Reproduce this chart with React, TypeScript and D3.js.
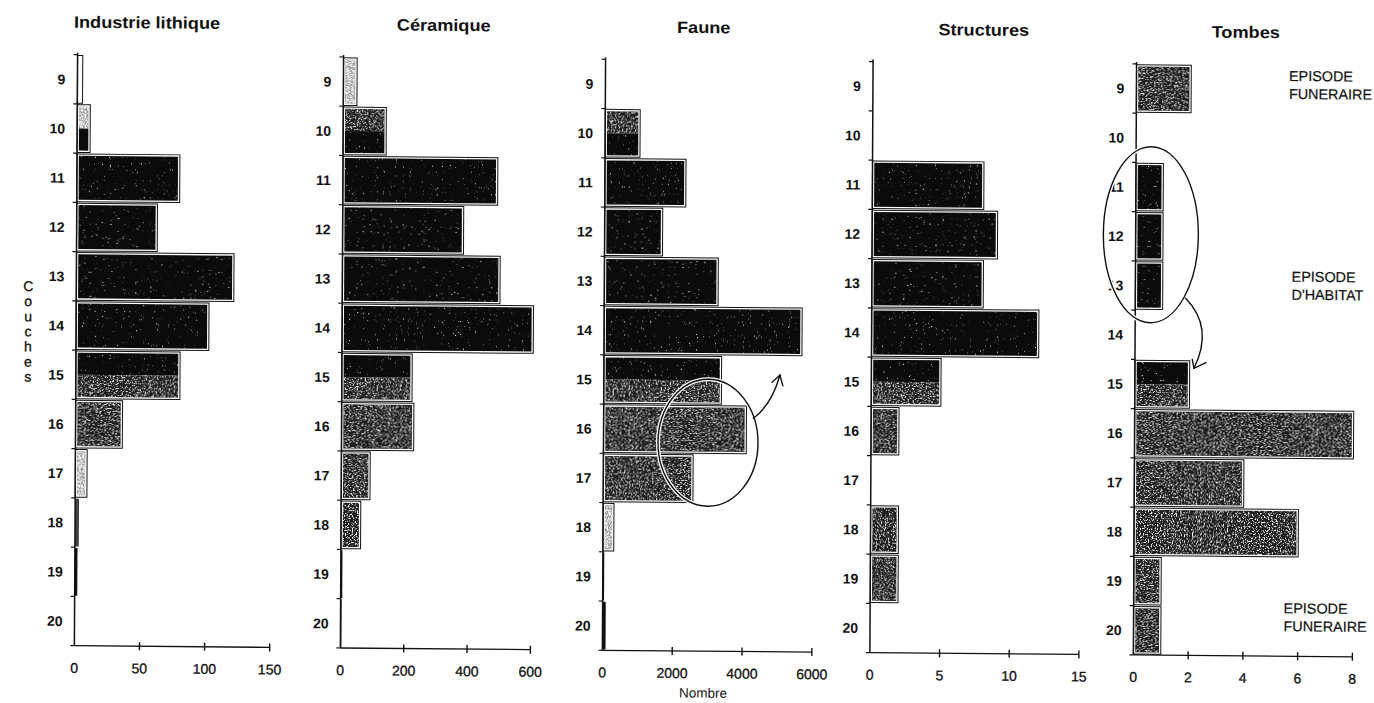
import React from 'react';
import * as d3 from 'd3';

// ---------- data ----------
const layers = [9, 10, 11, 12, 13, 14, 15, 16, 17, 18, 19, 20];

const lithiqueValues = [4, 10, 79, 62, 121, 102, 80, 36, 9, 3, 2, 0];
const ceramiqueValues = [43, 136, 489, 382, 498, 604, 222, 228, 91, 62, 5, 3];
const fauneValues = [0, 1000, 2320, 1660, 3260, 5670, 3370, 4090, 2570, 310, 40, 90];
const structuresValues = [0, 0, 8, 9, 8, 12, 5, 2, 0, 2, 2, 0];
const tombesValues = [2, 0, 1, 1, 1, 0, 2, 8, 4, 6, 1, 1];

const lithiqueTicks = [0, 50, 100, 150];
const ceramiqueTicks = [0, 200, 400, 600];
const fauneTicks = [0, 2000, 4000, 6000];
const structuresTicks = [0, 5, 10, 15];
const tombesTicks = [0, 2, 4, 6, 8];

// fill tone per layer: b = black, g = grey, l = light, w = white, two letters = top/bottom split
const lithiqueTones = ['w', 'lb', 'b', 'b', 'b', 'b', 'bg', 'g', 'l', 'g', 'b', ''];
const ceramiqueTones = ['l', 'gb', 'b', 'b', 'b', 'b', 'bg', 'g', 'g', 'g', 'b', 'b'];
const fauneTones = ['g', 'gb', 'b', 'b', 'b', 'b', 'bg', 'g', 'g', 'l', 'b', 'b'];
const structuresTones = ['', '', 'b', 'b', 'b', 'b', 'bg', 'g', '', 'g', 'g', ''];
const tombesTones = ['g', '', 'b', 'b', 'b', '', 'bg', 'g', 'g', 'g', 'g', 'g'];

const titles = ['Industrie lithique', 'Céramique', 'Faune', 'Structures', 'Tombes'];
const yAxisLetters = ['C', 'o', 'u', 'c', 'h', 'e', 's'];
const xAxisTitle = 'Nombre';
const episodeLines = [
  ['EPISODE', 'FUNERAIRE'],
  ['EPISODE', "D'HABITAT"],
  ['EPISODE', 'FUNERAIRE'],
];

// ---------- layout ----------
const W = 1374;
const H = 703;
const TOP = 60;
const BOTTOM = 651;
const FONT = '"Liberation Sans", Arial, Helvetica, sans-serif';
// slight skew of the scanned page
const K1 = 0.0054;
const K2 = 0.0087;
const CX = 687;
const CY = 351;

const panels = [
  { values: lithiqueValues, ticks: lithiqueTicks, tones: lithiqueTones, x0: 76, width: 195.3, titleX: 145.3 },
  { values: ceramiqueValues, ticks: ceramiqueTicks, tones: ceramiqueTones, x0: 342, width: 190, titleX: 442 },
  { values: fauneValues, ticks: fauneTicks, tones: fauneTones, x0: 604, width: 209.5, titleX: 702 },
  { values: structuresValues, ticks: structuresTicks, tones: structuresTones, x0: 871.5, width: 209, titleX: 982 },
  { values: tombesValues, ticks: tombesTicks, tones: tombesTones, x0: 1135, width: 219, titleX: 1244 },
];

const episodePos = [
  { x: 1287.5, y: 75.7 },
  { x: 1291.2, y: 276.4 },
  { x: 1285, y: 608 },
];

const toneStyle: Record<string, { base: string; filter: string | null; thin: string }> = {
  b: { base: '#0b0b0b', filter: 'url(#spkB)', thin: '#111' },
  g: { base: '#1a1a1a', filter: 'url(#spkG)', thin: '#444' },
  l: { base: '#8a8a8a', filter: 'url(#spkL)', thin: '#999' },
  w: { base: '#ffffff', filter: null, thin: '#fff' },
};

const yScale = d3.scaleBand<number>().domain(layers).range([TOP, BOTTOM]).padding(0);

function Bar({ x0, w, y, h, tone }: { x0: number; w: number; y: number; h: number; tone: string }) {
  if (!tone || w <= 0) return null;
  const parts: [string, number, number][] =
    tone.length === 2 ? [[tone[0], 0, 0.5], [tone[1], 0.5, 0.5]] : [[tone, 0, 1]];
  if (w < 4.5) {
    return (
      <g>
        {parts.map(([t, f, fh], i) => (
          <rect key={i} x={x0} y={y + f * h} width={w} height={h * fh} fill={toneStyle[t].thin} />
        ))}
      </g>
    );
  }
  const inset = 1.8;
  const ix = x0 + inset;
  const iw = w - 2 * inset;
  const iy = y + inset;
  const ih = h - 2 * inset;
  return (
    <g>
      <rect x={x0} y={y} width={w} height={h} fill="#fff" stroke="#111" strokeWidth={1} />
      {parts.map(([t, f, fh], i) => {
        const s = toneStyle[t];
        const ry = iy + f * ih;
        const rh = fh * ih;
        return (
          <g key={i}>
            <rect x={ix} y={ry} width={iw} height={rh} fill={s.base} />
            {s.filter && <rect x={ix} y={ry} width={iw} height={rh} fill="#fff" filter={s.filter} />}
          </g>
        );
      })}
    </g>
  );
}

function Panel({ p, idx }: { p: typeof panels[number]; idx: number }) {
  const max = p.ticks[p.ticks.length - 1];
  const x = d3.scaleLinear().domain([0, max]).range([p.x0, p.x0 + p.width]);
  const bw = yScale.bandwidth();
  const boundaries = d3.range(layers.length + 1).map((i) => TOP + i * bw);
  return (
    <g>
      <text
        transform={`translate(${p.titleX},33) scale(1.1,1)`}
        textAnchor="middle"
        fontFamily={FONT}
        fontWeight="bold"
        fontSize={16.5}
        fill="#111"
      >
        {titles[idx]}
      </text>
      {layers.map((l, i) => (
        <Bar
          key={l}
          x0={p.x0}
          w={x(p.values[i]) - p.x0}
          y={(yScale(l) as number) + 0.8}
          h={bw - 1.6}
          tone={p.tones[i]}
        />
      ))}
      {/* y axis */}
      <line x1={p.x0} x2={p.x0} y1={TOP - 2} y2={BOTTOM} stroke="#111" strokeWidth={1.5} />
      {boundaries.map((b, i) => (
        <line key={i} x1={p.x0 - 4} x2={p.x0} y1={b} y2={b} stroke="#111" strokeWidth={1.2} />
      ))}
      {layers.map((l) => (
        <text
          key={l}
          x={p.x0 - 12}
          y={(yScale(l) as number) + bw / 2 + 5}
          textAnchor="end"
          fontFamily={FONT}
          fontWeight="bold"
          fontSize={14}
          fill="#111"
        >
          {l}
        </text>
      ))}
      {/* x axis */}
      <line x1={p.x0} x2={p.x0 + p.width} y1={BOTTOM} y2={BOTTOM} stroke="#111" strokeWidth={1.3} />
      {p.ticks.map((t) => (
        <g key={t}>
          {t !== 0 && <line x1={x(t)} x2={x(t)} y1={BOTTOM - 4} y2={BOTTOM + 4} stroke="#111" strokeWidth={1.4} />}
          <text
            x={x(t)}
            y={BOTTOM + 27}
            textAnchor="middle"
            fontFamily={FONT}
            fontSize={14}
            fill="#111"
            stroke="#111"
            strokeWidth={0.3}
          >
            {t}
          </text>
        </g>
      ))}
    </g>
  );
}

function Arrow({ d, tip, b1, b2 }: { d: string; tip: number[]; b1: number[]; b2: number[] }) {
  return (
    <g fill="none" stroke="#111" strokeWidth={1.4} strokeLinecap="round">
      <path d={d} />
      <polyline points={`${b1[0]},${b1[1]} ${tip[0]},${tip[1]} ${b2[0]},${b2[1]}`} />
    </g>
  );
}

export default function App() {
  const skew = `matrix(1 ${K2} ${-K1} 1 ${K1 * CY} ${-K2 * CX})`;
  const letterStart = 296.7;
  const letterStep = 15.1;
  return (
    <svg
      width={W}
      height={H}
      viewBox={`0 0 ${W} ${H}`}
      style={{ position: 'absolute', left: 0, top: 0, background: '#fff' }}
    >
      <defs>
        <filter id="spkB" x="0" y="0" width="100%" height="100%" colorInterpolationFilters="sRGB">
          <feTurbulence type="fractalNoise" baseFrequency="0.85" numOctaves={2} seed={4} result="n" />
          <feColorMatrix in="n" type="matrix" values="0 0 0 0 1  0 0 0 0 1  0 0 0 0 1  9 0 0 0 -6.4" result="d" />
          <feComposite in="d" in2="SourceGraphic" operator="in" />
        </filter>
        <filter id="spkG" x="0" y="0" width="100%" height="100%" colorInterpolationFilters="sRGB">
          <feTurbulence type="fractalNoise" baseFrequency="0.75" numOctaves={2} seed={9} result="n" />
          <feColorMatrix in="n" type="matrix" values="0 0 0 0 1  0 0 0 0 1  0 0 0 0 1  6 0 0 0 -3.1" result="d" />
          <feComposite in="d" in2="SourceGraphic" operator="in" />
        </filter>
        <filter id="spkL" x="0" y="0" width="100%" height="100%" colorInterpolationFilters="sRGB">
          <feTurbulence type="fractalNoise" baseFrequency="0.75" numOctaves={2} seed={13} result="n" />
          <feColorMatrix in="n" type="matrix" values="0 0 0 0 1  0 0 0 0 1  0 0 0 0 1  6 0 0 0 -2.4" result="d" />
          <feComposite in="d" in2="SourceGraphic" operator="in" />
        </filter>
      </defs>
      <rect x={0} y={0} width={W} height={H} fill="#fff" />
      <g transform={skew}>
        {panels.map((p, i) => (
          <Panel key={i} p={p} idx={i} />
        ))}

        {yAxisLetters.map((c, i) => (
          <text
            key={i}
            x={28}
            y={letterStart + i * letterStep}
            textAnchor="middle"
            fontFamily={FONT}
            fontSize={14}
            fill="#111"
            stroke="#111"
            strokeWidth={0.3}
          >
            {c}
          </text>
        ))}

        <text x={705} y={697.5} textAnchor="middle" fontFamily={FONT} fontSize={13.5} fill="#111">
          {xAxisTitle}
        </text>

        {episodeLines.map((lines, i) => (
          <text key={i} fontFamily={FONT} fontSize={14.4} fill="#111" stroke="#111" strokeWidth={0.2}>
            {lines.map((t, j) => (
              <tspan key={j} x={episodePos[i].x} y={episodePos[i].y + j * 18}>
                {t}
              </tspan>
            ))}
          </text>
        ))}

        {/* Faune ellipse + arrow */}
        <ellipse cx={708.5} cy={442.5} rx={50} ry={63.5} fill="none" stroke="#fff" strokeWidth={4} />
        <ellipse cx={708.5} cy={442.5} rx={50} ry={63.5} fill="none" stroke="#111" strokeWidth={1.4} />
        <Arrow d="M 753.7 417.7 Q 772 404 780.1 374.2" tip={[780.1, 374.2]} b1={[772.3, 381.5]} b2={[783, 385]} />

        {/* Tombes ellipse + arrow */}
        <ellipse cx={1150.2} cy={230.7} rx={47.5} ry={88} fill="none" stroke="#fff" strokeWidth={4} />
        <ellipse cx={1150.2} cy={230.7} rx={47.5} ry={88} fill="none" stroke="#111" strokeWidth={1.4} />
        <Arrow d="M 1185.4 293.9 Q 1214 323 1194 363.9" tip={[1194, 363.9]} b1={[1192.3, 355]} b2={[1206, 358]} />
      </g>
    </svg>
  );
}
